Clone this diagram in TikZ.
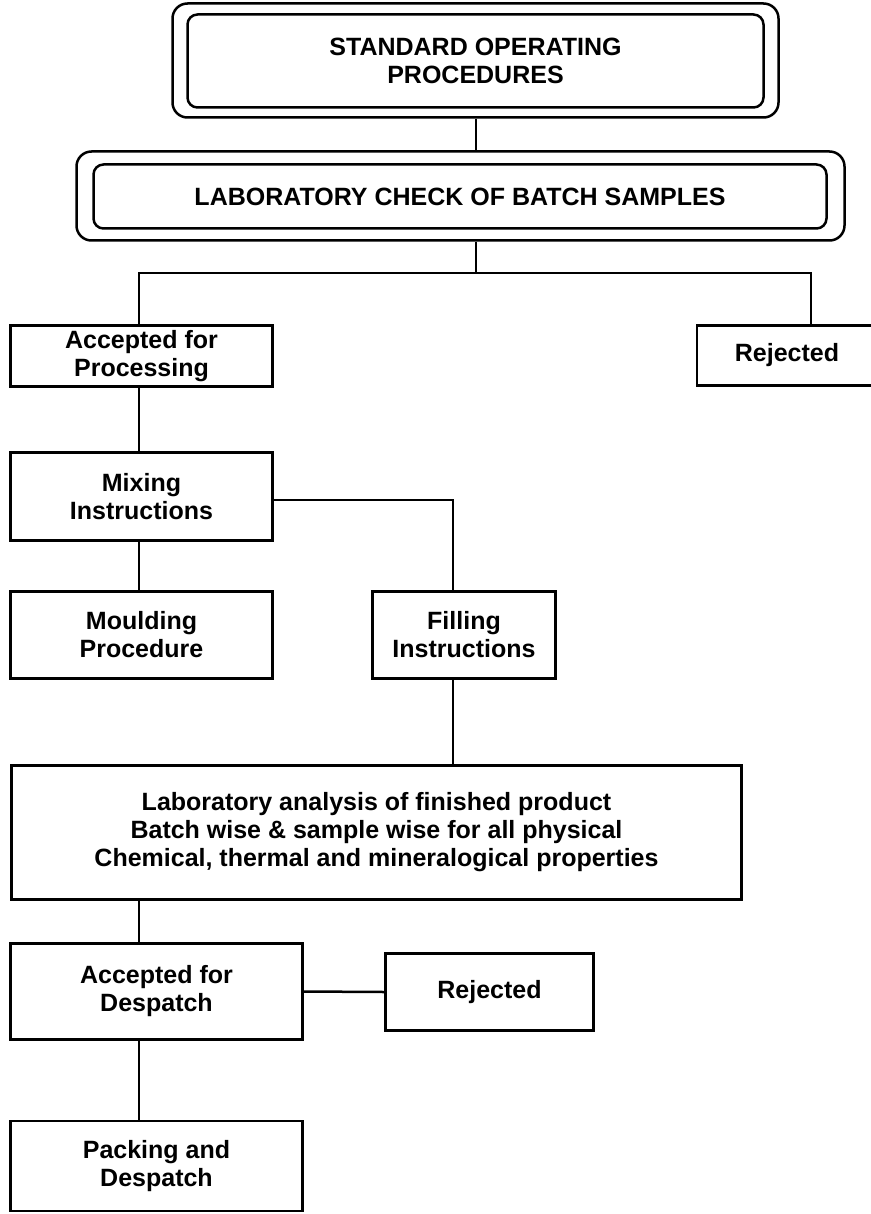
\documentclass[tikz,border=0pt]{standalone}
\usepackage{fontspec}
\setmainfont{Liberation Sans}
\usetikzlibrary{backgrounds}

\tikzset{
  box/.style={draw, line width=2.5pt, fill=white, align=center, inner sep=0pt,
    font=\bfseries\fontsize{25}{28}\selectfont},
  outerframe/.style={draw, line width=2.5pt, fill=white, rounded corners=15pt, inner sep=0pt},
  innerframe/.style={box, rounded corners=10pt},
  link/.style={line width=2.5pt},
}

\begin{document}
\begin{tikzpicture}[x=1pt, y=-1pt]
    \useasboundingbox (0,0) rectangle (870,1214);

    % Heading boxes (double frames)
    \node[outerframe, minimum width=606pt, minimum height=114pt] (sop) at (475.5,60.5) {};
    \node[innerframe, minimum width=576pt, minimum height=93pt] (sopin) at (475.5,61)
        {STANDARD OPERATING\\PROCEDURES};
    \node[outerframe, minimum width=768pt, minimum height=89pt] (labchk) at (460.5,196) {};
    \node[innerframe, minimum width=733pt, minimum height=64pt] (labchkin) at (460,196.5)
        {LABORATORY CHECK OF BATCH SAMPLES};

    % First decision
    \node[box, minimum width=262pt, minimum height=61pt] (accp) at (141.5,356)
        {Accepted for\\Processing};
    \node[box, minimum width=180pt, minimum height=60pt] (rej1) at (787,355.5)
        {Rejected};

    % Processing steps
    \node[box, minimum width=262pt, minimum height=88pt] (mix) at (141.5,496.5)
        {Mixing\\Instructions};
    \node[box, minimum width=262pt, minimum height=87pt] (mould) at (141.5,635)
        {Moulding\\Procedure};
    \node[box, minimum width=183pt, minimum height=87pt] (fill) at (464,635)
        {Filling\\Instructions};

    % Final analysis
    \node[box, minimum width=730pt, minimum height=134pt] (lab) at (376.5,832.5)
        {Laboratory analysis of finished product\\Batch wise \& sample wise for all physical\\Chemical, thermal and mineralogical properties};

    % Despatch
    \node[box, minimum width=292pt, minimum height=96pt] (accd) at (156.5,991.5)
        {Accepted for\\Despatch};
    \node[box, minimum width=208pt, minimum height=77pt] (rej2) at (489.5,992)
        {Rejected};
    \node[box, minimum width=292pt, minimum height=90pt] (pack) at (156.5,1166)
        {Packing and\\Despatch};

    % Connector points
    \coordinate (fork) at (476,273);
    \coordinate (rejdrop) at (811,273);
    \coordinate (filldrop) at (453,500);
    \coordinate (spine) at (139,0);

    % Connectors
    \begin{scope}[on background layer]
        \draw[link] (fork |- sop.south) -- (fork |- labchk.north);
        \draw[link] (fork |- labchk.south) -- (fork);
        \draw[link] (accp.north -| spine) |- (fork) -- (rejdrop) -- (rejdrop |- rej1.north);
        \draw[link] (accp.south -| spine) -- (mix.north -| spine);
        \draw[link] (mix.south -| spine) -- (mould.north -| spine);
        \draw[link] (mix.east |- filldrop) -- (filldrop) -- (filldrop |- fill.north);
        \draw[link] (filldrop |- fill.south) -- (filldrop |- lab.north);
        \draw[link] (lab.south -| spine) -- (accd.north -| spine);
        \draw[link] (accd.east) -- (rej2.west);
        \draw[link] (accd.south -| spine) -- (pack.north -| spine);
    \end{scope}

\end{tikzpicture}
\end{document}
